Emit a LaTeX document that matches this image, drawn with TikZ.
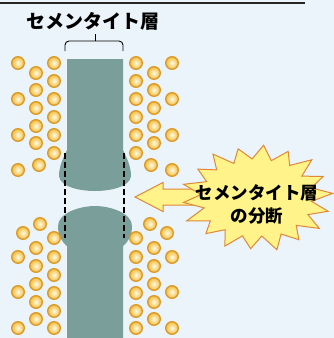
\documentclass[tikz,border=0pt]{standalone}
\usepackage{fontspec}
\newfontfamily\jp{Noto Sans CJK JP}
\definecolor{paper}{HTML}{EBF3FB}
\definecolor{cementite}{HTML}{7A9F9A}
\definecolor{grainedge}{HTML}{DC9724}
\definecolor{grainmid}{HTML}{F2BC38}
\definecolor{grainlight}{HTML}{FFFAE6}
\definecolor{burstfill}{HTML}{FFF38A}
\definecolor{burstedge}{HTML}{DF8836}

\tikzset{
  grain/.style={draw=grainedge, line width=1.3pt, inner color=grainlight, outer color=grainmid},
  burst/.style={draw=burstedge, fill=burstfill, line width=1pt, line join=miter},
  label/.style={font=\jp\bfseries, inner sep=0pt, align=center},
  cut/.style={dashed, dash pattern=on 6pt off 3pt, line width=1.3pt}
}

\begin{document}
\begin{tikzpicture}[x=1pt, y=-1pt]
    \fill[paper] (0,0) rectangle (334,338);
    \useasboundingbox (0,0) rectangle (334,338);

    % rule and title
    \draw[line width=1.6pt, black!85] (0,3) -- (305,3);
    \node[label, font=\jp\bfseries\fontsize{19}{22}\selectfont] (title) at (93,21) {セメンタイト層};
    \coordinate (bracetop) at (95,41);
    \draw[line width=0.9pt, rounded corners=4pt] (65,51) -- (65,41) -- (123,41) -- (123,51);
    \draw[line width=0.9pt] (bracetop) -- ++(0,-7);

    % cementite plate, upper and lower pieces
    \fill[cementite] (67,59) -- (67,150) .. controls (62,160) and (59,168) .. (59,176)
        .. controls (60,187) and (80,191) .. (95,191)
        .. controls (110,191) and (130,187) .. (131,176)
        .. controls (131,168) and (128,160) .. (123,150) -- (123,59) -- cycle;
    \fill[cementite] (67,338) -- (67,246) .. controls (62,242) and (58,236) .. (58,226)
        .. controls (58,213) and (80,206) .. (95,206)
        .. controls (110,206) and (132,213) .. (132,226)
        .. controls (132,236) and (128,242) .. (123,246) -- (123,338) -- cycle;

    % where the plate used to be
    \draw[cut] (65,153) -- (65,238);
    \draw[cut] (124,153) -- (124,238);

    % ferrite grains, left side and its mirror on the right
    \foreach \x/\y in {54/63,54/81,54/99,54/117,54/135,54/153,
                       36/73,36/90,36/108,36/126,36/143,
                       18/63,18/99,18/135,18/170,39/165,
                       40/224,23/233,
                       54/238,54/257,54/275,54/293,54/311,54/328,
                       36/248,36/266,36/284,36/302,36/319,
                       18/257,18/292,18/328} {
        \shade[grain] (\x,\y) circle (6.3pt);
        \shade[grain] (190-\x,\y) circle (6.3pt);
    }

    % callout pointing at the break
    \coordinate (tip) at (135,197);
    \coordinate (burst) at (257,198);
    \draw[burst] (tip) -- ++(28,-14.5) -- ++(0,6.5) -- ++(45,0) -- ++(0,16)
        -- ++(-45,0) -- ++(0,6.5) -- cycle;

    \foreach \i/\f in {0/1.00,1/0.74,2/0.96,3/0.72,4/1.02,5/0.75,6/0.97,7/0.73,8/1.00,
                       9/0.74,10/0.96,11/0.72,12/1.01,13/0.75,14/0.95,15/0.73,16/1.00,17/0.74,
                       18/0.97,19/0.72,20/1.02,21/0.75,22/0.95,23/0.73,24/1.00,25/0.74,26/0.96,
                       27/0.72,28/1.01,29/0.75,30/0.96,31/0.73,32/1.00,33/0.74,34/0.97,35/0.72} {
        \pgfmathsetmacro\rx{76*\f}
        \pgfmathsetmacro\ry{53*\f}
        \path (burst) ++(\i*10+5:\rx pt and \ry pt) coordinate (b\i);
    }
    \draw[burst] (b0) \foreach \i in {1,...,35} {-- (b\i)} -- cycle;
    \node[label, font=\jp\bfseries\fontsize{17.5}{23}\selectfont] (note) at ([yshift=-6pt]burst)
        {セメンタイト層\\の分断};
\end{tikzpicture}
\end{document}
